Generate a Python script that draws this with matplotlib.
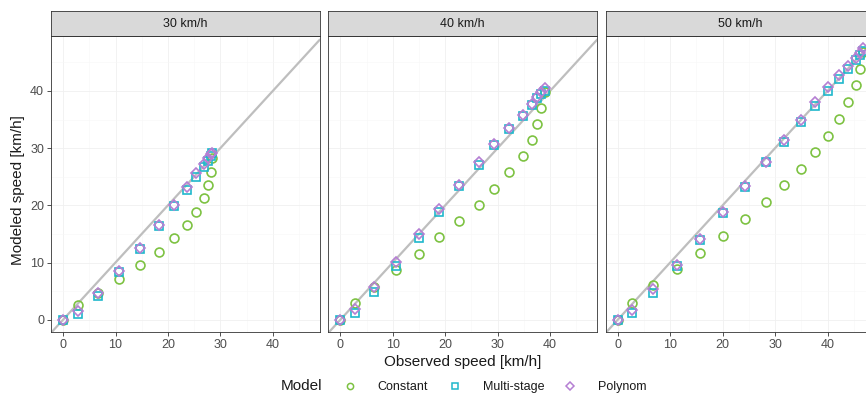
import matplotlib
matplotlib.use("Agg")
import matplotlib.pyplot as plt
from matplotlib.lines import Line2D

plt.rcParams["font.family"] = ["Liberation Sans", "DejaVu Sans"]

# observed speed and modelled speed per target speed facet
FACETS = ["30 km/h", "40 km/h", "50 km/h"]
OBSERVED = [
    [0, 2.8, 6.6, 10.6, 14.6, 18.3, 21.1, 23.7, 25.3, 26.8, 27.6, 28.2, 28.4],
    [0, 2.7, 6.5, 10.7, 15.0, 18.9, 22.7, 26.4, 29.3, 32.1, 34.8, 36.6, 37.5, 38.2, 39.0],
    [0, 2.7, 6.8, 11.3, 15.7, 20.1, 24.3, 28.3, 31.7, 34.9, 37.6, 40.1, 42.2, 43.9, 45.5, 46.1, 46.8],
]
CONSTANT = [
    [0, 2.5, 4.7, 7.1, 9.5, 11.8, 14.2, 16.5, 18.8, 21.2, 23.6, 25.9, 28.2],
    [0, 2.9, 5.7, 8.65, 11.5, 14.4, 17.2, 20.0, 22.9, 25.8, 28.6, 31.4, 34.3, 37.1, 39.8],
    [0, 3.0, 6.0, 8.9, 11.75, 14.7, 17.6, 20.5, 23.5, 26.4, 29.3, 32.2, 35.1, 38.1, 41.0, 43.9, 46.8],
]
MULTISTAGE = [
    [0, 1.05, 4.2, 8.3, 12.4, 16.3, 19.8, 22.6, 24.9, 26.7, 27.7, 28.7, 29.1],
    [0, 1.2, 4.8, 9.4, 14.2, 18.8, 23.3, 27.1, 30.5, 33.3, 35.7, 37.5, 38.8, 39.5, 39.9],
    [0, 1.2, 4.7, 9.4, 14.0, 18.7, 23.2, 27.5, 31.1, 34.5, 37.3, 39.9, 42.0, 43.9, 45.4, 46.2, 46.9],
]
POLYNOM = [
    [0, 1.5, 4.7, 8.5, 12.6, 16.5, 20.1, 23.2, 25.6, 27.3, 28.2, 28.9, 29.2],
    [0, 1.9, 5.7, 10.1, 14.9, 19.3, 23.6, 27.5, 30.8, 33.6, 35.8, 37.7, 38.9, 39.8, 40.5],
    [0, 1.75, 5.4, 9.5, 14.15, 18.8, 23.4, 27.5, 31.4, 35.0, 38.0, 40.6, 42.7, 44.4, 45.7, 46.6, 47.5],
]
MODELS = ["Constant", "Multi-stage", "Polynom"]
COLORS = {"Constant": "#7DC242", "Multi-stage": "#1FB8CC", "Polynom": "#B57FD3"}
MARKERS = {"Constant": "o", "Multi-stage": "s", "Polynom": "D"}
MSIZE = {"Constant": 6.4, "Multi-stage": 5.8, "Polynom": 5.2}
TICKS = [0, 10, 20, 30, 40]

W, H = 866, 395
fig = plt.figure(figsize=(W / 100, H / 100), dpi=100)

lefts = [51, 328.3, 605.7]
pw = 268.5
top, bottom, strip_top = 36, 332.3, 11.3

for i, name in enumerate(FACETS):
    ax = fig.add_axes([lefts[i] / W, 1 - bottom / H, pw / W, (bottom - top) / H])
    ax.set_xlim(-2.3, 48.9)
    ax.set_ylim(-2.2, 49.6)
    ax.set_xticks(TICKS)
    ax.set_yticks(TICKS)
    ax.set_xticks([5, 15, 25, 35, 45], minor=True)
    ax.set_yticks([5, 15, 25, 35, 45], minor=True)
    ax.grid(True, which="major", color="#F0F0F0", lw=0.6)
    ax.grid(True, which="minor", color="#F7F7F7", lw=0.4)
    ax.tick_params(which="minor", length=0)
    ax.set_axisbelow(True)
    ax.tick_params(length=3, width=0.6, color="#333333", labelcolor="#4D4D4D",
                   labelsize=9, pad=2)
    if i > 0:
        ax.tick_params(labelleft=False, left=False)
    for s in ax.spines.values():
        s.set_color("#333333")
        s.set_linewidth(0.6)

    ax.axline((0, 0), slope=1, color="#BEBEBE", lw=1.6, zorder=1)
    for m, data in zip(MODELS, [CONSTANT, MULTISTAGE, POLYNOM]):
        ax.plot(OBSERVED[i], data[i], ls="none", marker=MARKERS[m], ms=MSIZE[m],
                mfc="none", mec=COLORS[m], mew=1.2, zorder=3)

    sx = fig.add_axes([lefts[i] / W, 1 - top / H, pw / W, (top - strip_top) / H])
    sx.set_xticks([])
    sx.set_yticks([])
    sx.set_facecolor("#D9D9D9")
    for s in sx.spines.values():
        s.set_color("#333333")
        s.set_linewidth(0.6)
    sx.text(0.5, 0.5, name, ha="center", va="center", fontsize=9, color="#1A1A1A",
            transform=sx.transAxes)

fig.text(18 / W, 1 - 190 / H, "Modeled speed [km/h]", rotation=90, ha="center",
         va="center", fontsize=11, color="#1A1A1A")
fig.text(463 / W, 1 - 362 / H, "Observed speed [km/h]", ha="center", va="center",
         fontsize=11, color="#1A1A1A")

# legend row, placed by hand like the ggplot guide (shared baseline)
base = 1 - 390 / H
ky = 1 - 385.5 / H
fig.text(301 / W, base, "Model", ha="center", va="baseline", fontsize=11,
         color="#1A1A1A")
key_x = [350, 455, 570]
label_x = [377, 483, 598]
for m, kx, tx in zip(MODELS, key_x, label_x):
    fig.add_artist(Line2D([kx / W], [ky], transform=fig.transFigure, ls="none",
                          marker=MARKERS[m], ms=MSIZE[m] * 0.7, mfc="none",
                          mec=COLORS[m], mew=1.1))
    fig.text(tx / W, base, m, ha="left", va="baseline", fontsize=9, color="#1A1A1A")

fig.savefig("out.png", dpi=100)
